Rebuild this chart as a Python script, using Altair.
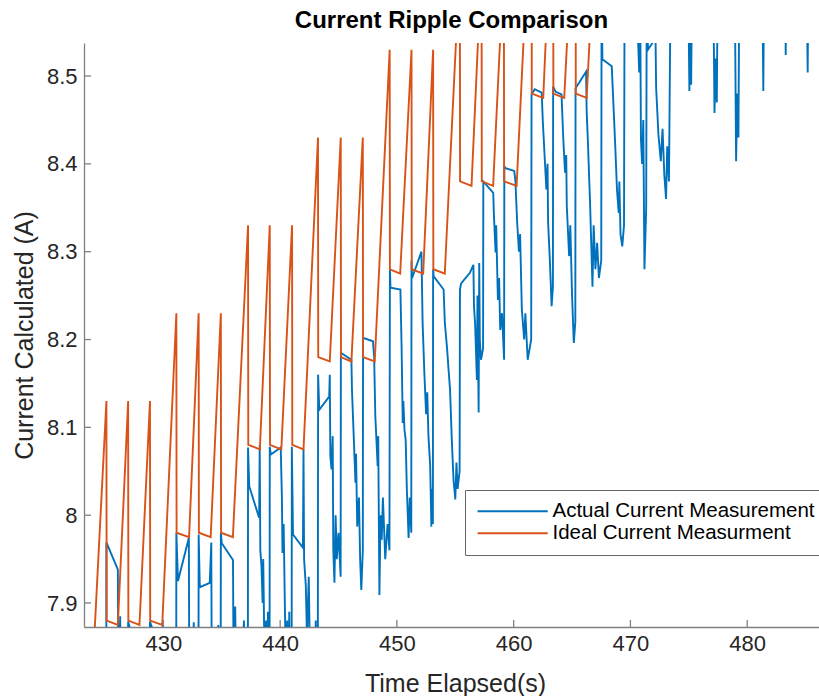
import altair as alt
import pandas as pd

title_text = "Current Ripple Comparison"
x_title = "Time Elapsed(s)"
y_title = "Current Calculated (A)"
series_names = ["Actual Current Measurement", "Ideal Current Measurment"]
series_colors = ["#0072BD", "#D95319"]
x_ticks = [430, 440, 450, 460, 470, 480]
y_ticks = [7.9, 8.0, 8.1, 8.2, 8.3, 8.4, 8.5]
x_range = [423.2, 486.15]
y_range = [7.8727, 8.5376]

# Ideal (orange) sawtooth vertices
ideal_t = [
    423.75,
    425.12, 425.14, 426.10, 426.98, 427.00, 427.95, 428.85, 428.87, 429.90,
    431.11, 431.13, 432.20, 433.02, 433.04, 434.05, 434.92, 434.94, 435.95,
    437.25, 437.27, 438.26, 439.11, 439.13, 440.10, 441.02, 441.04, 442.00,
    443.24, 443.26, 444.25, 445.19, 445.21, 446.10, 447.08, 447.10, 448.10,
    449.38, 449.40, 450.28, 451.25, 451.27, 452.25, 453.10, 453.12, 454.10,
    455.39, 455.41, 456.39, 457.25, 457.27, 458.24, 459.16, 459.18, 460.25,
    461.53, 461.55, 462.53, 463.38, 463.40, 464.33, 465.30, 465.32, 466.25,
    467.60,
]
ideal_v = [
    7.775,
    8.13, 7.88, 7.875, 8.13, 7.88, 7.875, 8.13, 7.88, 7.875,
    8.23, 7.98, 7.975, 8.23, 7.98, 7.975, 8.23, 7.98, 7.975,
    8.33, 8.08, 8.075, 8.33, 8.08, 8.075, 8.33, 8.08, 8.075,
    8.43, 8.18, 8.175, 8.43, 8.18, 8.175, 8.43, 8.18, 8.175,
    8.53, 8.28, 8.275, 8.53, 8.28, 8.275, 8.53, 8.28, 8.275,
    8.63, 8.38, 8.375, 8.63, 8.38, 8.375, 8.63, 8.38, 8.375,
    8.73, 8.48, 8.475, 8.73, 8.48, 8.475, 8.73, 8.48, 8.475,
    8.83,
]

actual_1 = [
    (423.20, 7.74), (423.60, 7.80), (423.70, 7.72), (424.10, 7.70), (424.50, 7.76), (424.60, 7.69), (425.10, 7.66),
    (425.12, 7.969), (426.10, 7.938), (426.14, 7.80), (426.30, 7.885), (426.36, 7.78), (426.55, 7.75), (426.96, 7.70),
    (426.98, 7.879), (427.10, 7.873), (427.20, 7.78), (427.60, 7.74), (428.00, 7.77), (428.30, 7.74), (428.83, 7.70),
    (428.85, 7.879), (429.00, 7.873), (429.10, 7.78), (429.50, 7.74), (429.90, 7.76), (429.95, 7.877), (430.00, 7.77),
    (430.50, 7.73), (431.09, 7.70),
]
actual_2 = [
    (431.11, 7.980), (431.25, 7.925), (432.18, 7.974), (432.22, 7.80), (432.45, 7.870), (432.50, 7.78), (432.60, 7.878),
    (432.65, 7.77), (433.00, 7.72),
    (433.02, 7.978), (433.12, 7.918), (433.97, 7.923), (434.10, 7.969), (434.15, 7.79), (434.40, 7.86), (434.45, 7.75),
    (434.70, 7.875), (434.75, 7.76), (434.90, 7.72),
    (434.92, 7.980), (435.00, 7.968), (435.96, 7.949), (436.02, 7.80), (436.15, 7.896), (436.25, 7.78), (436.50, 7.87),
    (436.55, 7.76), (436.90, 7.88), (436.95, 7.75), (437.23, 7.72),
]
actual_3 = [
    (437.25, 8.077), (437.35, 8.033), (438.20, 7.997), (438.25, 8.080), (438.30, 7.960), (438.40, 7.942), (438.50, 7.900),
    (438.55, 7.950), (438.65, 7.850), (438.80, 7.880), (438.90, 7.780), (438.95, 7.890), (439.00, 7.760), (439.09, 7.750),
    (439.11, 8.078), (439.20, 8.069), (440.05, 8.077), (440.15, 8.020), (440.20, 7.957), (440.30, 7.990), (440.40, 7.900),
    (440.50, 7.820), (440.60, 7.880), (440.70, 7.780), (440.78, 7.890), (440.85, 7.770), (440.98, 7.740),
    (441.00, 8.078), (441.10, 7.978), (441.95, 7.963), (442.00, 8.075), (442.05, 7.950), (442.20, 7.919), (442.30, 7.860),
    (442.45, 7.930), (442.55, 7.840), (442.70, 7.800), (442.85, 7.870), (442.90, 7.770), (443.05, 7.880), (443.10, 7.760),
    (443.22, 7.740),
]
actual_4 = [
    (443.25, 8.160), (443.35, 8.120), (444.20, 8.135), (444.25, 8.160), (444.30, 8.067), (444.40, 8.052), (444.50, 8.090),
    (444.55, 7.961), (444.65, 7.923), (444.75, 8.000), (444.85, 7.950), (445.00, 7.980), (445.18, 7.930),
    (445.20, 8.185), (446.10, 8.177), (446.15, 8.143), (446.30, 8.090), (446.45, 8.037), (446.50, 8.070), (446.60, 7.987),
    (446.75, 8.020), (446.85, 7.950), (446.95, 7.915), (447.08, 7.960),
    (447.10, 8.202), (447.95, 8.198), (448.05, 8.180), (448.15, 8.113), (448.35, 8.056), (448.40, 8.090), (448.50, 7.909),
    (448.60, 8.000), (448.70, 7.972), (448.80, 8.020), (449.00, 7.950), (449.20, 7.990), (449.36, 7.960),
]
actual_5 = [
    (449.40, 8.280), (449.45, 8.259), (450.30, 8.257), (450.40, 8.192), (450.50, 8.105), (450.55, 8.130), (450.65, 8.097),
    (450.75, 8.086), (450.85, 8.030), (451.00, 7.974), (451.10, 8.020), (451.23, 7.980),
    (451.25, 8.290), (451.30, 8.270), (452.10, 8.300), (452.20, 8.219), (452.35, 8.162), (452.50, 8.115), (452.60, 8.140),
    (452.70, 8.090), (452.85, 8.056), (452.95, 7.987), (453.00, 8.030), (453.08, 7.990),
    (453.10, 8.280), (453.15, 8.272), (454.00, 8.257), (454.10, 8.220), (454.30, 8.189), (454.40, 8.170), (454.55, 8.143),
    (454.70, 8.086), (454.85, 8.040), (455.00, 8.018), (455.10, 8.060), (455.20, 8.030), (455.37, 8.050),
]
actual_6 = [
    (455.40, 8.257), (455.50, 8.264), (456.25, 8.276), (456.55, 8.285), (456.60, 8.238), (456.70, 8.217), (456.85, 8.154),
    (456.90, 8.250), (457.00, 8.117), (457.05, 8.287), (457.10, 8.200), (457.20, 8.177), (457.38, 8.190),
    (457.40, 8.380), (458.25, 8.367), (458.30, 8.344), (458.45, 8.299), (458.50, 8.330), (458.65, 8.245), (458.75, 8.270),
    (458.85, 8.211), (459.00, 8.230), (459.18, 8.177),
    (459.20, 8.397), (459.30, 8.395), (460.05, 8.392), (460.15, 8.380), (460.30, 8.333), (460.45, 8.300), (460.55, 8.320),
    (460.70, 8.234), (460.90, 8.200), (461.00, 8.230), (461.20, 8.177), (461.50, 8.200),
]
actual_7 = [
    (461.53, 8.479), (461.80, 8.485), (462.40, 8.481), (462.50, 8.447), (462.65, 8.409), (462.80, 8.371), (462.90, 8.400),
    (462.95, 8.333), (463.10, 8.290), (463.25, 8.238), (463.36, 8.260),
    (463.38, 8.488), (463.60, 8.482), (464.10, 8.479), (464.25, 8.428), (464.40, 8.390), (464.50, 8.410), (464.55, 8.352),
    (464.75, 8.295), (464.85, 8.330), (465.00, 8.250), (465.15, 8.196), (465.28, 8.220),
    (465.30, 8.486), (465.40, 8.488), (466.20, 8.505), (466.25, 8.460), (466.35, 8.428), (466.55, 8.352), (466.75, 8.260),
    (466.85, 8.330), (467.00, 8.280), (467.15, 8.310), (467.30, 8.270), (467.50, 8.290),
]
actual_8 = [
    (467.53, 8.600), (467.60, 8.519), (468.40, 8.511), (468.55, 8.466), (468.70, 8.420), (468.85, 8.370), (469.00, 8.344),
    (469.05, 8.380), (469.15, 8.320), (469.30, 8.306), (469.45, 8.330),
    (469.50, 8.610), (470.50, 8.600), (470.75, 8.504), (470.85, 8.550), (470.90, 8.428), (471.00, 8.400), (471.10, 8.450),
    (471.20, 8.280), (471.35, 8.350),
    (471.40, 8.620), (471.50, 8.530), (472.00, 8.540), (472.10, 8.600), (472.20, 8.487), (472.40, 8.433), (472.60, 8.403),
    (472.75, 8.440), (472.90, 8.388), (473.05, 8.360), (473.15, 8.420), (473.30, 8.380), (473.45, 8.620),
]
actual_9 = [
    (474.50, 8.650), (474.95, 8.600), (475.05, 8.483), (475.10, 8.560), (475.20, 8.490), (475.30, 8.640),
    (476.50, 8.660), (477.10, 8.600), (477.20, 8.458), (477.30, 8.520), (477.40, 8.470), (477.50, 8.660),
    (478.50, 8.670), (478.95, 8.580), (479.05, 8.403), (479.15, 8.480), (479.25, 8.430), (479.35, 8.670),
    (480.50, 8.700), (481.30, 8.600), (481.38, 8.483), (481.45, 8.620), (482.50, 8.720), (483.25, 8.600),
    (483.30, 8.524), (483.35, 8.620), (484.50, 8.740), (485.10, 8.600), (485.18, 8.504), (485.25, 8.640),
    (486.50, 8.750),
]

actual_pts = actual_1 + actual_2 + actual_3 + actual_4 + actual_5 + actual_6 + actual_7 + actual_8 + actual_9
actual_df = pd.DataFrame(actual_pts, columns=["t", "v"])
actual_df["series"] = series_names[0]
actual_df["i"] = range(len(actual_df))

ideal_df = pd.DataFrame({"t": ideal_t, "v": ideal_v})
ideal_df["series"] = series_names[1]
ideal_df["i"] = range(len(ideal_df))

FONT = "Liberation Sans"
AX = "#808080"
TXT = "#262626"

xscale = alt.Scale(domain=x_range, nice=False, zero=False)
yscale = alt.Scale(domain=y_range, nice=False, zero=False)

x_axis = alt.Axis(
    values=x_ticks, format="d", title=x_title, grid=False, ticks=False,
    labelFont=FONT, labelFontSize=22, labelColor=TXT, labelPadding=6,
    titleFont=FONT, titleFontSize=25, titleFontWeight="normal", titleColor=TXT,
    titleX=371, titleY=56, titleBaseline="middle", titleAlign="center",
    domainColor=AX, domainWidth=1.3,
)
y_axis = alt.Axis(
    values=y_ticks, format=".1~f", title=y_title, grid=False, ticks=False,
    labelFont=FONT, labelFontSize=22, labelColor=TXT, labelPadding=7,
    titleFont=FONT, titleFontSize=25, titleFontWeight="normal", titleColor=TXT,
    titleAngle=270, titleX=-60, titleY=292, titleBaseline="middle", titleAlign="center",
    domainColor=AX, domainWidth=1.3,
)

color = alt.Color(
    "series:N",
    scale=alt.Scale(domain=series_names, range=series_colors),
    legend=alt.Legend(
        title=None, orient="none", legendX=381, legendY=447,
        symbolType="M-1,0H7.1", symbolSize=300, symbolStrokeWidth=2,
        labelFont=FONT, labelFontSize=20.5, labelColor="black", labelOffset=56,
        padding=11, rowPadding=1, strokeColor="#666666", fillColor="white",
        labelLimit=400,
    ),
)

blue = alt.Chart(actual_df).mark_line(clip=True, strokeWidth=1.9).encode(
    x=alt.X("t:Q", scale=xscale, axis=x_axis),
    y=alt.Y("v:Q", scale=yscale, axis=y_axis),
    color=color,
    order=alt.Order("i:Q"),
)
orange = alt.Chart(ideal_df).mark_line(clip=True, strokeWidth=1.9).encode(
    x=alt.X("t:Q", scale=xscale),
    y=alt.Y("v:Q", scale=yscale),
    color=color,
    order=alt.Order("i:Q"),
)

ytick_df = pd.DataFrame({"v": y_ticks})
xtick_df = pd.DataFrame({"t": x_ticks})
ytk = alt.Chart(ytick_df).mark_rule(color=AX, strokeWidth=1.3).encode(
    y=alt.Y("v:Q", scale=yscale), x=alt.value(0), x2=alt.value(7)
)
xtk = alt.Chart(xtick_df).mark_rule(color=AX, strokeWidth=1.3).encode(
    x=alt.X("t:Q", scale=xscale), y=alt.value(584), y2=alt.value(577)
)

chart = alt.layer(blue, orange, ytk, xtk).properties(
    width=735, height=584,
    title=alt.TitleParams(
        text=title_text, font=FONT, fontSize=24, fontWeight="bold", color="black",
        anchor="middle", frame="group", offset=10,
    ),
    padding={"left": 84, "top": 43, "right": 0, "bottom": 69},
    autosize=alt.AutoSizeParams(type="none"),
).configure_view(stroke=None)

chart.save("out.html", embed_options={"renderer": "svg", "actions": False})
